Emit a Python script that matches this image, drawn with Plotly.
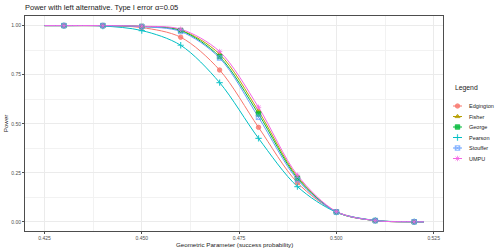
import plotly.graph_objects as go

# ---------------- data ----------------
p_values = [0.43, 0.44, 0.45, 0.46, 0.47, 0.48, 0.49, 0.50, 0.51, 0.52]
series_names = ["Edgington", "Fisher", "George", "Pearson", "Stouffer", "UMPU"]
edgington = [1.000, 0.999, 0.990, 0.941, 0.774, 0.482, 0.200, 0.052, 0.007, 0.001]
fisher    = [1.000, 1.000, 0.996, 0.977, 0.855, 0.565, 0.230, 0.051, 0.007, 0.001]
george    = [1.000, 1.000, 0.996, 0.975, 0.842, 0.550, 0.223, 0.051, 0.007, 0.001]
pearson   = [1.000, 0.998, 0.975, 0.900, 0.710, 0.426, 0.180, 0.050, 0.008, 0.001]
stouffer  = [1.000, 1.000, 0.995, 0.970, 0.835, 0.533, 0.215, 0.051, 0.007, 0.001]
umpu      = [1.000, 1.000, 0.997, 0.982, 0.868, 0.584, 0.238, 0.053, 0.007, 0.001]
# curve ends (lines extend slightly beyond the points)
curve_start = (0.425, 1.000)
curve_end = (0.5225, 0.0005)

x_ticks = [0.425, 0.450, 0.475, 0.500, 0.525]
y_ticks = [0.00, 0.25, 0.50, 0.75, 1.00]

values = [edgington, fisher, george, pearson, stouffer, umpu]

# ---------------- styles ----------------
colors = ["#F8766D", "#B79F00", "#00BA38", "#00BFC4", "#619CFF", "#F564E3"]
symbols = ["circle", "triangle-up", "square", "cross-thin", "square-x-open", "asterisk-open"]
FONT = "Liberation Sans, Arial, sans-serif"

W, H = 498, 252
L, T, B = 25, 16, 21
PANEL_R = 443
plot_w = W - L
x_dom_end = (PANEL_R - L) / plot_w


def rgba(hex_col, a):
    h = hex_col.lstrip("#")
    r, g, b = int(h[0:2], 16), int(h[2:4], 16), int(h[4:6], 16)
    return f"rgba({r},{g},{b},{a})"


def marker_style(col, sym):
    c = rgba(col, 0.8)
    return dict(color=c, symbol=sym, size=4.5,
                line=dict(color=c, width=1.2 if "thin" in sym else 0.9))


fig = go.Figure()

# lines first
for name, vals, col in zip(series_names, values, colors):
    fig.add_trace(go.Scatter(
        x=[curve_start[0]] + p_values + [curve_end[0]],
        y=[curve_start[1]] + vals + [curve_end[1]],
        mode="lines", line=dict(color=col, width=1, shape="spline", smoothing=0.9),
        showlegend=False, hoverinfo="skip"))
# then points
for name, vals, col, sym in zip(series_names, values, colors, symbols):
    fig.add_trace(go.Scatter(
        x=p_values, y=vals, mode="markers", name=name,
        marker=marker_style(col, sym), showlegend=False))

# manual legend on a pixel-based axis pair
leg_rows = [106, 116.5, 127, 137.5, 148, 158.5]
for name, col, sym, ry in zip(series_names, colors, symbols, leg_rows):
    fig.add_trace(go.Scatter(x=[453, 462], y=[ry, ry], xaxis="x2", yaxis="y2",
                             mode="lines", line=dict(color=col, width=1),
                             showlegend=False, hoverinfo="skip"))
    fig.add_trace(go.Scatter(x=[457.5], y=[ry], xaxis="x2", yaxis="y2",
                             mode="markers", marker=marker_style(col, sym),
                             showlegend=False, hoverinfo="skip"))
    fig.add_annotation(x=466.5, y=ry, xref="x2", yref="y2", text=name,
                       showarrow=False, xanchor="left", yanchor="middle",
                       font=dict(family=FONT, size=5.5, color="#1a1a1a"))
fig.add_annotation(x=452.5, y=87.7, xref="x2", yref="y2", text="Legend",
                   showarrow=False, xanchor="left", yanchor="middle",
                   font=dict(family=FONT, size=6.8, color="#1a1a1a"))

# axis titles
fig.add_annotation(x=x_dom_end / 2, y=(H - B - 244.3) / (H - T - B), xref="paper", yref="paper",
                   text="Geometric Parameter (success probability)", showarrow=False,
                   xanchor="center", yanchor="middle",
                   font=dict(family=FONT, size=6.2, color="#1a1a1a"))
fig.add_annotation(x=(5.7 - L) / plot_w, y=0.5, xref="paper", yref="paper",
                   text="Power", textangle=-90, showarrow=False,
                   xanchor="center", yanchor="middle",
                   font=dict(family=FONT, size=6.2, color="#1a1a1a"))

axis_common = dict(
    showline=True, mirror=True, linecolor="#4D4D4D", linewidth=1,
    ticks="outside", ticklen=2, tickcolor="#4D4D4D", tickwidth=1,
    tickfont=dict(family=FONT, size=5, color="#4D4D4D"),
    showgrid=True, gridcolor="#EBEBEB", gridwidth=1, zeroline=False,
)

fig.update_layout(
    width=W, height=H,
    margin=dict(l=L, r=0, t=T, b=B, autoexpand=False),
    paper_bgcolor="white", plot_bgcolor="white",
    title=dict(text="Power with left alternative. Type I error α=0.05",
               x=L / W, xref="container", xanchor="left",
               y=1 - 7 / H, yref="container", yanchor="middle",
               font=dict(family=FONT, size=7.5, color="#1a1a1a")),
    xaxis=dict(domain=[0, x_dom_end], range=[0.4200, 0.5274],
               tickvals=x_ticks, ticktext=[f"{v:.3f}" for v in x_ticks],
               minor=dict(tickvals=[0.4375, 0.4625, 0.4875, 0.5125],
                          showgrid=True, gridcolor="#F2F2F2", gridwidth=0.6, ticks=""),
               **axis_common),
    yaxis=dict(range=[-0.046, 1.049],
               tickvals=y_ticks, ticktext=[f"{v:.2f}" for v in y_ticks],
               minor=dict(tickvals=[0.125, 0.375, 0.625, 0.875],
                          showgrid=True, gridcolor="#F2F2F2", gridwidth=0.6, ticks=""),
               **axis_common),
    xaxis2=dict(domain=[x_dom_end, 1], range=[PANEL_R, W], visible=False, fixedrange=True),
    yaxis2=dict(domain=[0, 1], range=[H - B, T], visible=False, fixedrange=True, anchor="x2"),
)

fig.write_html("out.html", config={"displayModeBar": False},
               post_script="document.body.style.margin='0';")
